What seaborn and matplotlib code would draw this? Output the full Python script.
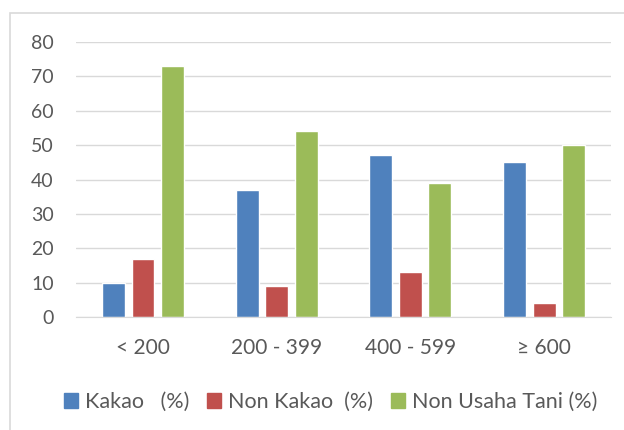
import pandas as pd
import matplotlib
matplotlib.use('Agg')
import matplotlib.pyplot as plt
import seaborn as sns
from matplotlib.patches import Rectangle

# Data
categories = ["< 200", "200 - 399", "400 - 599", "≥ 600"]
series_names = ["Kakao   (%)", "Non Kakao  (%)", "Non Usaha Tani (%)"]
kakao = [10, 37, 47, 45]
non_kakao = [17, 9, 13, 4]
non_usaha_tani = [73, 54, 39, 50]
colors = ["#4F81BD", "#C0504D", "#9BBB59"]

rows = []
for name, vals in zip(series_names, [kakao, non_kakao, non_usaha_tani]):
    for cat, v in zip(categories, vals):
        rows.append({"Kategori": cat, "Seri": name, "Nilai": v})
df = pd.DataFrame(rows)

sns.set_style("white")
plt.rcParams['font.family'] = ['Lato', 'DejaVu Sans']

fig = plt.figure(figsize=(6.24, 4.30), dpi=100)
ax = fig.add_axes([0.122, 0.263, 0.857, 0.639])

sns.barplot(data=df, x="Kategori", y="Nilai", hue="Seri", order=categories,
            hue_order=series_names, palette=colors, width=0.66, gap=0.22,
            saturation=1, ax=ax)

ax.set_ylim(0, 80)
ax.set_yticks(range(0, 81, 10))
ax.set_xlabel("")
ax.set_ylabel("")
ax.grid(axis="y", color="#D9D9D9", linewidth=1)
ax.set_axisbelow(True)
for side in ["top", "right", "left"]:
    ax.spines[side].set_visible(False)
ax.spines["bottom"].set_color("#D9D9D9")
ax.tick_params(axis="both", length=0, colors="#595959")
ax.tick_params(axis="y", labelsize=14, pad=16)
ax.tick_params(axis="x", labelsize=15, pad=15)

ax.get_legend().remove()
handles = [Rectangle((0, 0), 1, 1, color=c) for c in colors]
fig.legend(handles, series_names, loc="center", bbox_to_anchor=(0.53, 0.065),
           ncol=3, frameon=False, fontsize=15.5, handlelength=0.65, handleheight=0.65,
           handletextpad=0.35, columnspacing=0.8, labelcolor="#595959")

# chart area border
fig.patches.append(Rectangle((10 / 624, -0.01), 1.0, 1 - 13 / 430 + 0.01,
                             transform=fig.transFigure, fill=False,
                             edgecolor="#D9D9D9", linewidth=1.2))

plt.savefig("out.png", dpi=100)
plt.close()
